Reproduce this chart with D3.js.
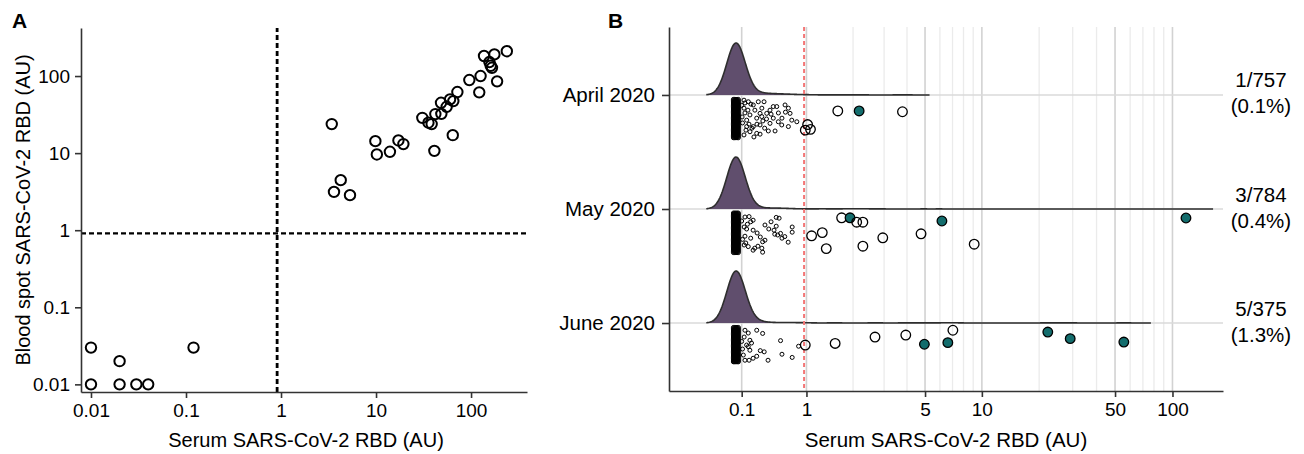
<!DOCTYPE html>
<html>
<head>
<meta charset="utf-8">
<script src="https://cdn.jsdelivr.net/npm/d3@7"></script>
<style>
  body { margin: 0; background: #fff; }
  text { font-family: "Liberation Sans", Arial, sans-serif; fill: #000; }
</style>
</head>
<body>
<div class="canvas"></div>
<script>
// ---------- data ----------
// panel A: serum vs blood spot (AU)
const serumA = [0.01, 0.01, 0.02, 0.02, 0.03, 0.04, 0.12,
  3.42, 9.84, 10.2, 14.0, 17.2, 19.4, 4.25, 3.61, 5.32, 30.7, 35.6, 38.5, 41.1, 42.1,
  48.7, 48.3, 55.4, 60.1, 65.1, 64.2, 71.8, 95.9, 122, 126, 137, 176, 156, 161, 166, 188, 238];
const spotA = [0.03, 0.01, 0.02, 0.01, 0.01, 0.01, 0.03,
  23.8, 14.3, 9.6, 10.4, 14.6, 13.1, 4.46, 3.14, 2.85, 28.7, 24.8, 23.8, 10.7, 32.1,
  32.3, 45.0, 39.9, 49.8, 47.3, 17.1, 62, 88.7, 61.4, 100, 182, 191, 152, 136, 128, 85.3, 210];
const cutoffA = 0.91;
const ticksA = [0.01, 0.1, 1, 10, 100];

// panel B: serum by month
const months = ['April 2020', 'May 2020', 'June 2020'];
const totals = [757, 784, 375];
const positives = [1, 3, 5];
const cutoffB = 0.96;
const majorB = [0.1, 1, 5, 10, 50, 100];
const minorB = [2, 3, 4, 6, 7, 8, 9, 20, 30, 40, 60, 70, 80, 90];

// dense cluster of negatives near zero: value levels x jitter levels
const blobVals = [0, 0.015, 0.03, 0.045, 0.06];
const blobJitApr = [0.01, 0.04, 0.07, 0.10, 0.13, 0.16, 0.19, 0.22, 0.25, 0.28, 0.31, 0.34, 0.37, 0.40, 0.43, 0.46,
  0.49, 0.52, 0.55, 0.58, 0.61, 0.64, 0.67, 0.70, 0.73, 0.76, 0.79, 0.82, 0.85, 0.88, 0.91, 0.94, 0.97];
const blobJitMay = [0.0, 0.03, 0.06, 0.09, 0.12, 0.15, 0.18, 0.21, 0.24, 0.27, 0.30, 0.33, 0.36, 0.39, 0.42, 0.45,
  0.48, 0.51, 0.54, 0.57, 0.60, 0.63, 0.66, 0.69, 0.72, 0.75, 0.78, 0.81, 0.84, 0.87, 0.90, 0.93, 0.96, 0.99];
const blobJitJun = [0.01, 0.04, 0.07, 0.10, 0.13, 0.16, 0.19, 0.22, 0.25, 0.28, 0.31, 0.34, 0.37, 0.40, 0.43, 0.46,
  0.49, 0.52, 0.55, 0.58, 0.61, 0.64, 0.67, 0.70, 0.73, 0.76, 0.79, 0.82, 0.85, 0.87];

// [value, jitter] for the scattered low values
const scatApr = [[0.128,0.03],[0.181,0.07],[0.242,0.15],[0.305,0.07],[0.378,0.07],[0.50,0.19],[0.547,0.19],[0.664,0.15],[0.713,0.23],[0.456,0.28],[0.413,0.36],[0.327,0.36],[0.201,0.40],[0.161,0.53],[0.285,0.48],[0.349,0.44],[0.50,0.48],[0.569,0.57],[0.617,0.65],[0.456,0.61],[0.327,0.65],[0.242,0.69],[0.161,0.69],[0.201,0.82],[0.285,0.86],[0.327,0.88],[0.434,0.80],[0.524,0.80],[0.713,0.69],[0.764,0.53],[0.842,0.57],[0.738,0.36],[0.128,0.23],[0.14,0.35],[0.152,0.78],[0.128,0.90],[0.176,0.28],[0.189,0.63],[0.213,0.13],[0.226,0.73],[0.262,0.28],[0.288,0.63],[0.35,0.23],[0.386,0.73],[0.41,0.50],[0.47,0.38],[0.57,0.35],[0.62,0.48],[0.67,0.33],[0.363,0.55],[0.25,0.95],[0.14,0.10],[0.105,0.45],[0.11,0.60],[0.10,0.16]];
const scatMay = [[0.58,0.13],[0.54,0.33],[0.77,0.35],[0.77,0.48],[0.71,0.73],[0.62,0.63],[0.56,0.55],[0.52,0.53],[0.44,0.40],[0.39,0.30],[0.35,0.88],[0.26,0.88],[0.36,0.72],[0.33,0.60],[0.29,0.50],[0.24,0.18],[0.19,0.09],[0.21,0.22],[0.15,0.75],[0.18,0.84],[0.24,0.93],[0.13,0.35],[0.14,0.10],[0.16,0.40],[0.21,0.63],[0.30,0.83],[0.39,0.68],[0.24,0.43],[0.36,0.98],[0.14,0.58],[0.47,0.22],[0.54,0.11],[0.51,0.43],[0.60,0.51],[0.66,0.59],[0.13,0.80],[0.17,0.28],[0.10,0.20],[0.11,0.66]];
const scatJun = [[0.285,0.08],[0.36,0.16],[0.60,0.34],[0.62,0.68],[0.77,0.76],[0.87,0.48],[0.43,0.83],[0.33,0.59],[0.38,0.62],[0.285,0.73],[0.24,0.78],[0.19,0.83],[0.14,0.08],[0.18,0.15],[0.20,0.33],[0.16,0.45],[0.20,0.58],[0.14,0.83],[0.12,0.70],[0.18,0.49],[0.22,0.40],[0.13,0.25],[0.10,0.36],[0.11,0.55]];

// [value, jitter, confirmed] for values around / above cutoff
const highApr = [[1.62,0.30,0],[2.17,0.30,1],[3.78,0.32,0],[0.98,0.78,0],[1.07,0.76,0],[1.02,0.64,0]];
const highMay = [[1.71,0.12,0],[1.92,0.12,1],[2.10,0.23,0],[2.28,0.23,0],[1.09,0.57,0],[1.29,0.49,0],[1.37,0.89,0],[2.28,0.83,0],[2.95,0.62,0],[4.76,0.52,0],[6.15,0.20,1],[9.11,0.78,0],[117.7,0.125,1]];
const highJun = [[0.98,0.45,0],[1.56,0.41,0],[2.67,0.25,0],[3.94,0.20,0],[4.96,0.43,1],[6.61,0.39,1],[7.03,0.08,0],[22.2,0.125,1],[29.1,0.29,1],[55.6,0.375,1]];

const rows = months.map((m, i) => ({
  month: m, total: totals[i], pos: positives[i],
  blob: d3.cross(blobVals, [blobJitApr, blobJitMay, blobJitJun][i]),
  scat: [scatApr, scatMay, scatJun][i],
  high: [highApr, highMay, highJun][i]
}));

// ---------- svg ----------
const svg = d3.select('.canvas')
  .append('svg')
  .attr('width', 1304)
  .attr('height', 454);

const axisCol = '#333';
const fmt = d3.format('~g');

// ===== panel A =====
const xA = d3.scaleLog().domain([0.00785, 388]).range([81, 527]);
const yA = d3.scaleLog().domain([0.00796, 420]).range([392, 28]);

const gA = svg.append('g');

gA.append('line')
  .attr('x1', xA.range()[0]).attr('x2', xA.range()[1])
  .attr('y1', yA(cutoffA)).attr('y2', yA(cutoffA))
  .attr('stroke', '#000').attr('stroke-width', 2.4).attr('stroke-dasharray', '5,3');
gA.append('line')
  .attr('x1', xA(cutoffA)).attr('x2', xA(cutoffA))
  .attr('y1', yA.range()[0]).attr('y2', yA.range()[1])
  .attr('stroke', '#000').attr('stroke-width', 2.8).attr('stroke-dasharray', '5,3');

gA.selectAll('circle.pt')
  .data(serumA.map((s, i) => ({s, b: spotA[i]})))
  .enter().append('circle')
  .attr('class', 'pt')
  .attr('cx', d => xA(d.s))
  .attr('cy', d => yA(d.b))
  .attr('r', 5.2)
  .attr('fill', 'none')
  .attr('stroke', '#000')
  .attr('stroke-width', 2);

gA.append('g')
  .attr('transform', `translate(0, ${yA.range()[0]})`)
  .call(d3.axisBottom(xA).tickValues(ticksA).tickFormat(fmt).tickSize(6).tickSizeOuter(0).tickPadding(6));
gA.append('g')
  .attr('transform', `translate(${xA.range()[0]}, 0)`)
  .call(d3.axisLeft(yA).tickValues(ticksA).tickFormat(fmt).tickSize(6).tickSizeOuter(0).tickPadding(5));

gA.append('text')
  .attr('x', (xA.range()[0] + xA.range()[1]) / 2 + 2)
  .attr('y', 447)
  .attr('text-anchor', 'middle')
  .attr('font-size', 20)
  .text('Serum SARS-CoV-2 RBD (AU)');
gA.append('text')
  .attr('transform', `translate(30, ${(yA.range()[0] + yA.range()[1]) / 2}) rotate(-90)`)
  .attr('text-anchor', 'middle')
  .attr('font-size', 20)
  .text('Blood spot SARS-CoV-2 RBD (AU)');
svg.append('text').attr('x', 12).attr('y', 28)
  .attr('font-size', 21).attr('font-weight', 'bold').text('A');

// ===== panel B =====
// pseudo-log (asinh) x scale
const xLin = d3.scaleLinear()
  .domain([Math.asinh(-0.858), Math.asinh(184)])
  .range([669, 1223]);
function makeXB() {
  const s = v => xLin(Math.asinh(v));
  s.domain = () => [-0.858, 184];
  s.range = () => xLin.range();
  s.copy = makeXB;
  return s;
}
const xB = makeXB();

const yB = d3.scalePoint().domain(months).range([27, 391]).padding(0.596);
const jit = d3.scaleLinear().domain([0, 1]).range([4, 44]);
const hB = d3.scaleLinear().domain([0, 1]).range([0, 52]);

const gB = svg.append('g');
const [yTop, yBot] = yB.range();

// vertical grid
gB.selectAll('line.minor')
  .data(minorB).enter().append('line')
  .attr('class', 'minor')
  .attr('x1', d => xB(d)).attr('x2', d => xB(d))
  .attr('y1', yTop).attr('y2', yBot)
  .attr('stroke', '#ebebeb').attr('stroke-width', 1.3);
gB.selectAll('line.major')
  .data(majorB).enter().append('line')
  .attr('class', 'major')
  .attr('x1', d => xB(d)).attr('x2', d => xB(d))
  .attr('y1', yTop).attr('y2', yBot)
  .attr('stroke', '#d2d2d2').attr('stroke-width', 1.6);

// horizontal grid at each month
gB.selectAll('line.hgrid')
  .data(months).enter().append('line')
  .attr('class', 'hgrid')
  .attr('x1', xLin.range()[0]).attr('x2', xLin.range()[1])
  .attr('y1', d => yB(d)).attr('y2', d => yB(d))
  .attr('stroke', '#dadada').attr('stroke-width', 1.6);

// ridge densities (kde in asinh space)
const bw = 0.109;
function ridge(row) {
  const others = row.scat.length + row.high.length;
  const wBlob = (row.total - others) / row.blob.length;
  const pts = [
    ...row.blob.map(d => [Math.asinh(d[0]), wBlob]),
    ...row.scat.map(d => [Math.asinh(d[0]), 1]),
    ...row.high.map(d => [Math.asinh(d[0]), 1])
  ];
  const lo = d3.min(pts, p => p[0]) - 3 * bw;
  const hi = d3.max(pts, p => p[0]) + 3 * bw;
  const grid = d3.range(601).map(k => lo + (hi - lo) * k / 600);
  const dens = grid.map(t => [t, d3.sum(pts, p => p[1] * Math.exp(-0.5 * ((t - p[0]) / bw) ** 2))]);
  const mx = d3.max(dens, d => d[1]);
  return dens.map(d => [d[0], d[1] / mx]);
}

rows.forEach(row => {
  const base = yB(row.month);
  const dens = ridge(row);
  const area = d3.area()
    .x(d => xLin(d[0]))
    .y0(base)
    .y1(d => base - hB(d[1]));
  const line = d3.line()
    .x(d => xLin(d[0]))
    .y(d => base - hB(d[1]));
  gB.append('path').datum(dens).attr('d', area).attr('fill', '#604e6d');
  gB.append('path').datum(dens).attr('d', line)
    .attr('fill', 'none').attr('stroke', '#2e2e2e').attr('stroke-width', 1.6);
});

// cutoff line
gB.append('line')
  .attr('x1', xB(cutoffB)).attr('x2', xB(cutoffB))
  .attr('y1', yTop).attr('y2', yBot)
  .attr('stroke', '#f47676').attr('stroke-width', 2).attr('stroke-dasharray', '4,3');

// points
rows.forEach(row => {
  const base = yB(row.month);
  const g = gB.append('g');
  const pts = [
    ...row.blob.map(d => ({v: d[0], j: d[1], c: 0})),
    ...row.scat.map(d => ({v: d[0], j: d[1], c: 0})),
    ...row.high.map(d => ({v: d[0], j: d[1], c: d[2]}))
  ];
  g.selectAll('circle')
    .data(pts).enter().append('circle')
    .attr('cx', d => xB(d.v))
    .attr('cy', d => base + jit(d.j))
    .attr('r', d => d.v >= cutoffB ? 4.8 : 2)
    .attr('fill', d => d.c ? '#136d6d' : 'none')
    .attr('stroke', '#000')
    .attr('stroke-width', d => d.v >= cutoffB ? 1.3 : 1);
});

// axes
gB.append('g')
  .attr('transform', `translate(0, ${yBot})`)
  .call(d3.axisBottom(xB).tickValues(majorB).tickFormat(fmt).tickSize(6).tickSizeOuter(0).tickPadding(6));
gB.append('g')
  .attr('transform', `translate(${xLin.range()[0]}, 0)`)
  .call(d3.axisLeft(yB).tickSize(7).tickSizeOuter(0).tickPadding(7));

// right-side counts
rows.forEach(row => {
  const base = yB(row.month);
  const pct = (row.pos / row.total * 100).toFixed(1);
  gB.append('text').attr('x', 1261).attr('y', base - 7.5)
    .attr('text-anchor', 'middle').attr('font-size', 20.5)
    .text(`${row.pos}/${row.total}`);
  gB.append('text').attr('x', 1261).attr('y', base + 18.5)
    .attr('text-anchor', 'middle').attr('font-size', 20.5)
    .text(`(${pct}%)`);
});

gB.append('text')
  .attr('x', (xLin.range()[0] + xLin.range()[1]) / 2)
  .attr('y', 447)
  .attr('text-anchor', 'middle')
  .attr('font-size', 20.5)
  .text('Serum SARS-CoV-2 RBD (AU)');
svg.append('text').attr('x', 608).attr('y', 28)
  .attr('font-size', 21).attr('font-weight', 'bold').text('B');

// axis styling
svg.selectAll('.domain').attr('stroke', axisCol).attr('stroke-width', 1.6);
svg.selectAll('.tick line').attr('stroke', axisCol).attr('stroke-width', 1.6);
svg.selectAll('.tick text')
  .attr('font-size', 19)
  .attr('fill', '#000')
  .style('font-family', '"Liberation Sans", Arial, sans-serif');
gB.selectAll('.tick text').filter(d => typeof d === 'string').attr('font-size', 20.5);
</script>
</body>
</html>
